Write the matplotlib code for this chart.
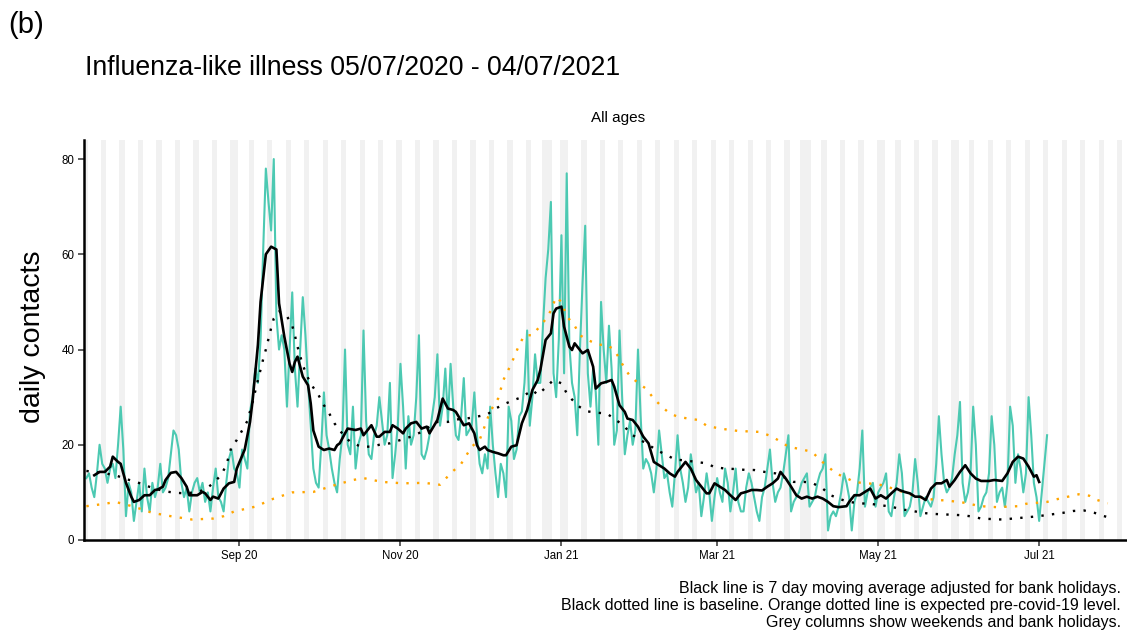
import matplotlib
matplotlib.use('Agg')
import matplotlib.pyplot as plt
import matplotlib.dates as mdates
import numpy as np
import pandas as pd

plt.rcParams['font.family'] = ['Liberation Sans', 'DejaVu Sans']

# first day of the series (Sunday 05/07/2020)
start = pd.Timestamp('2020-07-05')

# daily contacts, one value per day, 05/07/2020 - 04/07/2021
daily_contacts = [
    13, 14, 11, 9, 14, 20, 16,
    15, 12, 15, 16, 13, 20, 28,
    19, 5, 12, 10, 4, 8, 12,
    6, 15, 9, 6, 12, 9, 11,
    16, 10, 11, 13, 18, 23, 22,
    19, 12, 9, 11, 6, 10, 12,
    13, 10, 12, 8, 10, 6, 11,
    15, 9, 8, 6, 12, 17, 19,
    15, 14, 11, 19, 17, 15, 27,
    30, 36, 33, 42, 61, 78, 71,
    65, 80, 47, 40, 43, 40, 28,
    40, 52, 36, 28, 40, 51, 43,
    33, 24, 15, 12, 11, 20, 31,
    22, 19, 15, 12, 10, 17, 22,
    40, 20, 18, 28, 15, 20, 22,
    44, 25, 18, 17, 22, 24, 30,
    25, 20, 22, 33, 13, 18, 24,
    37, 28, 15, 26, 20, 22, 30,
    43, 18, 17, 19, 22, 26, 30,
    39, 24, 28, 36, 25, 37, 28,
    22, 21, 26, 34, 22, 23, 24,
    31, 22, 16, 14, 18, 15, 28,
    20, 14, 9, 16, 14, 9, 28,
    25, 17, 19, 26, 27, 33, 44,
    24, 30, 39, 33, 33, 45, 55,
    61, 71, 35, 30, 42, 64, 35,
    77, 41, 33, 30, 22, 40, 54,
    66, 35, 28, 36, 31, 20, 50,
    40, 33, 45, 36, 20, 23, 44,
    30, 18, 22, 25, 20, 23, 40,
    26, 15, 17, 16, 14, 10, 15,
    23, 18, 13, 14, 10, 7, 14,
    22, 15, 12, 8, 11, 18, 14,
    10, 12, 5, 9, 14, 10, 4,
    9, 13, 10, 8, 15, 12, 6,
    10, 15, 8, 6, 6, 11, 14,
    12, 9, 6, 4, 9, 11, 15,
    19, 12, 8, 10, 11, 14, 18,
    22, 6, 8, 9, 10, 12, 13,
    14, 7, 8, 9, 12, 14, 15,
    18, 2, 5, 6, 5, 7, 10,
    14, 12, 9, 2, 8, 10, 15,
    23, 7, 10, 11, 12, 7, 10,
    11, 12, 14, 6, 5, 9, 12,
    18, 14, 5, 6, 7, 10, 17,
    12, 5, 7, 9, 8, 7, 9,
    16, 26, 18, 12, 10, 11, 13,
    18, 22, 29, 12, 8, 10, 14,
    28, 20, 6, 7, 9, 10, 14,
    26, 20, 8, 10, 11, 7, 12,
    28, 24, 12, 18, 15, 10, 14,
    30, 22, 12, 9, 4, 10, 16,
    22,
]

# 7 day moving average (day offset from start, value)
ma_day = [3, 5, 7, 9, 10, 12, 13, 15, 17, 18, 20, 22, 24, 26, 27, 29, 30, 32, 34, 36,
          38, 39, 42, 44, 45, 47, 48, 50, 52, 54, 56, 57, 60, 62, 63, 65, 66, 68, 70, 72,
          73, 75, 77, 78, 79, 80, 82, 84, 85, 86, 88, 90, 92, 94, 95, 96, 98, 99, 102, 104,
          105, 107, 108, 110, 111, 113, 115, 116, 118, 120, 121, 123, 125, 127, 129, 130,
          133, 135, 137, 139, 140, 143, 145, 147, 148, 149, 151, 152, 154, 156, 158, 159,
          161, 163, 165, 167, 169, 171, 172, 174, 176, 177, 178, 180, 181, 183, 184, 185,
          187, 188, 190, 192, 193, 195, 197, 199, 200, 202, 204, 205, 207, 209, 211, 213,
          215, 217, 219, 221, 223, 224, 227, 229, 231, 233, 235, 236, 238, 240, 242, 244,
          246, 248, 250, 252, 254, 256, 258, 260, 262, 263, 265, 267, 269, 271, 273, 275,
          277, 279, 281, 283, 285, 288, 289, 291, 293, 295, 297, 299, 301, 303, 305, 307,
          308, 310, 312, 314, 316, 318, 320, 322, 324, 326, 327, 329, 331, 333, 335, 337,
          339, 342, 344, 347, 349, 351, 353, 355, 357, 359, 360, 361]
ma_value = [13.6, 14.3, 14.3, 15.4, 17.5, 16.4, 16.0, 12.0, 9.1, 8.0, 8.4, 9.4, 9.4, 10.5,
            10.6, 11.2, 12.6, 14.1, 14.3, 13.0, 11.2, 9.4, 9.4, 10.1, 9.8, 8.4, 9.1, 8.7,
            10.8, 11.9, 12.2, 15.0, 19.0, 24.8, 29.4, 41.0, 50.0, 60.0, 61.6, 61.0, 49.7,
            42.7, 37.0, 35.3, 37.4, 38.5, 34.3, 32.5, 28.7, 23.0, 19.6, 18.9, 19.2, 18.9,
            19.9, 20.3, 22.4, 23.4, 23.1, 23.4, 22.0, 23.4, 24.1, 21.7, 21.7, 22.7, 22.7,
            24.1, 23.4, 22.4, 23.4, 24.5, 24.8, 23.4, 23.8, 22.4, 25.2, 29.7, 27.6, 27.3,
            26.9, 24.1, 24.5, 22.4, 19.9, 18.9, 19.6, 18.9, 18.5, 18.2, 17.8, 17.8, 19.6,
            19.9, 24.5, 27.3, 31.5, 33.6, 35.7, 42.0, 43.4, 47.6, 48.6, 49.0, 44.8, 40.6,
            39.9, 41.3, 39.9, 39.2, 39.9, 36.4, 31.8, 32.9, 33.2, 33.6, 32.2, 28.3, 26.9,
            25.5, 25.2, 23.8, 21.7, 20.3, 16.4, 15.7, 15.0, 14.0, 13.3, 14.3, 16.4, 15.0,
            12.6, 11.2, 9.8, 9.8, 11.9, 11.2, 10.5, 9.4, 8.4, 9.8, 10.1, 10.5, 10.5, 10.4,
            11.2, 11.9, 12.9, 14.3, 12.9, 11.2, 9.4, 8.7, 9.1, 8.7, 9.1, 8.7, 8.0, 7.1,
            6.9, 7.1, 8.0, 9.4, 9.4, 10.1, 10.8, 8.7, 9.4, 8.7, 9.8, 10.8, 10.5, 10.1, 9.8,
            9.1, 9.1, 8.4, 10.8, 11.9, 11.9, 12.6, 11.2, 12.6, 14.3, 15.7, 14.0, 12.9, 12.4,
            12.4, 12.6, 12.4, 14.0, 16.4, 17.5, 17.1, 15.4, 13.3, 13.6, 12.2]

# baseline (black dotted)
baseline_day = [0, 3, 7, 11, 15, 19, 22, 26, 30, 34, 38, 42, 45, 48, 51, 53, 55, 57, 59, 61,
                63, 65, 67, 68, 70, 71, 73, 76, 78, 79, 80, 82, 84, 86, 88, 90, 92, 94, 96,
                98, 100, 104, 108, 111, 115, 119, 123, 127, 130, 133, 137, 140, 144, 148,
                152, 155, 159, 162, 165, 169, 171, 174, 177, 180, 182, 184, 187, 190, 194,
                197, 200, 204, 206, 209, 213, 216, 220, 223, 227, 231, 235, 238, 242, 246,
                250, 253, 257, 261, 265, 268, 272, 275, 279, 282, 286, 289, 293, 297, 301,
                305, 309, 312, 317, 320, 324, 328, 332, 336, 339, 343, 347, 351, 355, 359,
                362, 366, 370, 374, 378, 382, 385, 389]
baseline_value = [14.5, 14.3, 14.0, 13.6, 12.8, 12.2, 11.5, 10.8, 10.2, 9.9, 9.8, 10.1, 10.6,
                  11.9, 13.6, 15.7, 19.6, 21.0, 23.0, 25.0, 29.0, 33.6, 38.0, 40.0, 44.5,
                  46.5, 48.0, 47.0, 45.0, 43.0, 40.6, 36.7, 34.0, 32.0, 30.4, 28.3, 26.6,
                  24.5, 23.0, 21.7, 20.6, 19.6, 19.6, 20.0, 20.3, 21.0, 21.7, 22.7, 23.8,
                  24.8, 24.8, 25.3, 25.5, 25.9, 26.4, 27.6, 28.7, 29.4, 30.0, 31.5, 30.5,
                  32.0, 33.6, 32.9, 30.8, 29.5, 27.9, 27.0, 26.7, 26.6, 25.5, 23.8, 22.4,
                  21.3, 20.0, 18.9, 17.8, 16.9, 16.7, 16.4, 16.1, 15.3, 15.0, 14.9, 14.7,
                  14.7, 14.3, 14.0, 13.0, 12.2, 12.2, 12.0, 10.8, 9.4, 8.5, 8.0, 7.7, 7.6,
                  7.3, 7.0, 6.4, 6.2, 5.7, 5.5, 5.4, 5.3, 5.2, 4.9, 4.5, 4.4, 4.3, 4.5, 4.7,
                  4.9, 5.1, 5.4, 5.7, 6.1, 6.2, 5.7, 5.1, 4.5]

# expected pre-covid-19 level (orange dotted)
expected_day = [0, 7, 11, 18, 25, 32, 40, 48, 52, 56, 64, 71, 78, 86, 94, 101, 105, 112, 120,
                128, 134, 138, 142, 146, 149, 153, 156, 158, 161, 164, 166, 169, 172, 175,
                178, 180, 182, 185, 187, 190, 194, 197, 200, 202, 204, 206, 209, 212, 215,
                218, 221, 224, 228, 232, 235, 240, 247, 255, 259, 262, 266, 272, 275, 278,
                281, 284, 288, 291, 295, 299, 303, 307, 311, 315, 318, 322, 326, 333, 337,
                341, 345, 349, 353, 356, 360, 364, 368, 372, 376, 380, 383, 387]
expected_value = [7.1, 7.6, 8.0, 7.0, 5.7, 5.0, 4.3, 4.5, 5.0, 6.0, 7.0, 8.7, 10.0, 10.1,
                  11.5, 12.6, 13.0, 12.2, 11.9, 12.0, 11.6, 14.0, 16.0, 19.6, 21.0, 27.0,
                  29.7, 33.6, 37.0, 41.0, 43.0, 43.0, 45.0, 47.0, 51.0, 50.0, 47.0, 45.0,
                  43.0, 42.0, 41.0, 41.0, 40.0, 38.0, 36.0, 34.4, 33.0, 31.8, 29.7, 28.0,
                  26.6, 25.9, 25.5, 25.2, 24.0, 23.4, 22.9, 22.7, 21.9, 21.0, 19.6, 18.9,
                  18.5, 16.8, 15.4, 14.0, 13.0, 12.2, 11.9, 11.8, 11.3, 10.5, 9.8, 9.1, 8.7,
                  8.4, 8.3, 7.8, 7.3, 7.0, 6.9, 7.0, 7.1, 7.6, 7.8, 8.0, 8.6, 9.1, 9.6, 9.3,
                  8.4, 7.7]

bank_holidays = ['2020-08-31', '2020-12-25', '2020-12-28', '2021-01-01',
                 '2021-04-02', '2021-04-05', '2021-05-03', '2021-05-31']

dates = start + pd.to_timedelta(np.arange(len(daily_contacts)), unit='D')
ma_dates = start + pd.to_timedelta(ma_day, unit='D')
baseline_dates = start + pd.to_timedelta(baseline_day, unit='D')
expected_dates = start + pd.to_timedelta(expected_day, unit='D')

W, H = 1127, 632
fig = plt.figure(figsize=(W / 100, H / 100), dpi=100)
# panel runs slightly past the right edge, like the cropped original
ax = fig.add_axes([84 / W, 92 / H, (1150 - 84) / W, (540 - 140) / H])

# grey columns: weekends and bank holidays
all_days = pd.date_range(start - pd.Timedelta(days=2), start + pd.Timedelta(days=405))
bh = pd.to_datetime(bank_holidays)
grey = all_days[(all_days.dayofweek >= 5) | all_days.isin(bh)]
ax.bar(grey, 84, width=1.0, bottom=0, color='#F1F1F1', linewidth=0, zorder=0)

ax.plot(dates, daily_contacts, color='#4CC9B2', lw=1.5, zorder=2)
ax.plot(expected_dates, expected_value, color='orange', lw=1.7,
        linestyle=(0, (1, 3.5)), zorder=3)
ax.plot(baseline_dates, baseline_value, color='black', lw=1.7,
        linestyle=(0, (1, 3.5)), zorder=3)
ax.plot(ma_dates, ma_value, color='black', lw=1.9, zorder=4)

ax.set_xlim(start - pd.Timedelta(days=0.9), start + pd.Timedelta(days=403))
ax.set_ylim(0, 84)
ax.set_yticks([0, 20, 40, 60, 80])
ax.xaxis.set_major_locator(mdates.MonthLocator(bymonth=[1, 3, 5, 7, 9, 11]))
ax.xaxis.set_major_formatter(mdates.DateFormatter('%b %y'))

for s in ['top', 'right']:
    ax.spines[s].set_visible(False)
for s in ['left', 'bottom']:
    ax.spines[s].set_linewidth(1.8)
    ax.spines[s].set_color('black')
ax.tick_params(axis='both', length=4, width=1.1, color='#333333',
               labelsize=8.3, labelcolor='black', pad=3)

fig.text(8 / W, 1 - 25 / H, '(b)', fontsize=21, va='center', ha='left')
fig.text(85 / W, 1 - 68 / H, 'Influenza-like illness 05/07/2020 - 04/07/2021',
         fontsize=19.2, va='center', ha='left')
fig.text(618 / W, 1 - 118 / H, 'All ages', fontsize=11, va='center', ha='center')
fig.text(33 / W, 1 - 337 / H, 'daily contacts', fontsize=20.5, rotation=90,
         va='center', ha='center')

caption = ['Black line is 7 day moving average adjusted for bank holidays.',
           'Black dotted line is baseline. Orange dotted line is expected pre-covid-19 level.',
           'Grey columns show weekends and bank holidays.']
for i, line in enumerate(caption):
    fig.text(1121 / W, 1 - (588 + 17.5 * i) / H, line, fontsize=11.5,
             va='center', ha='right')

fig.savefig('out.png', dpi=100)
